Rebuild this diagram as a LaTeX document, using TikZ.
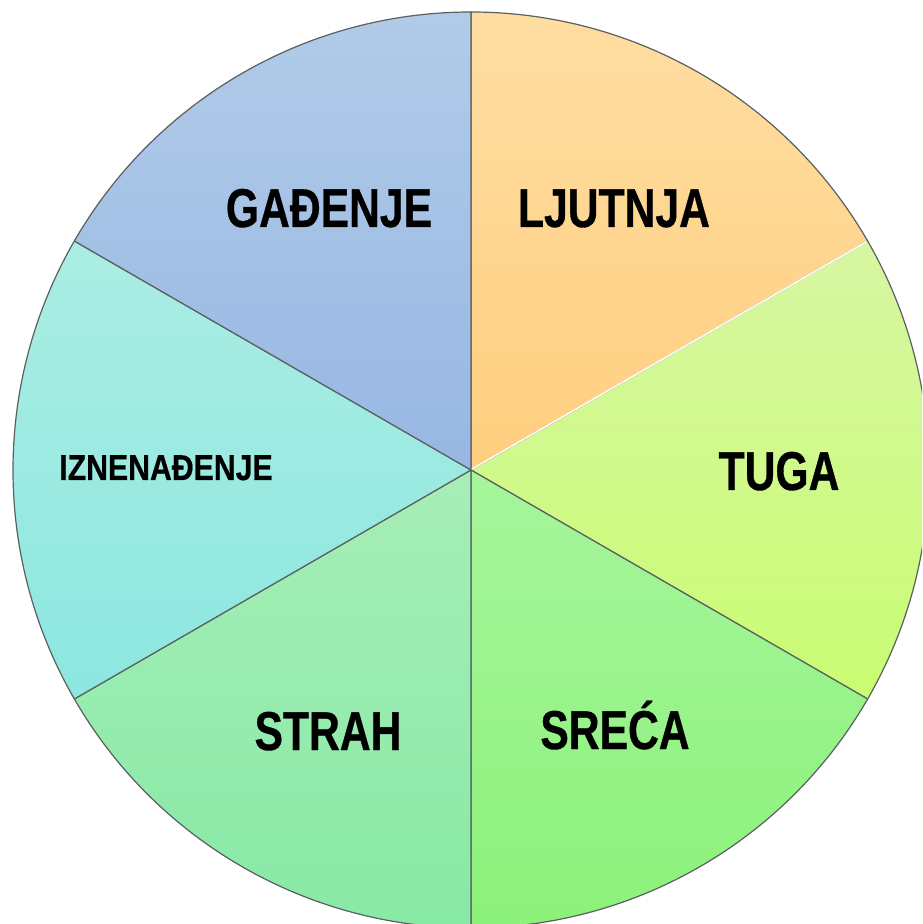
\documentclass[tikz,border=0pt]{standalone}
\usepackage{fontspec}
\setmainfont{Liberation Sans}
\newfontfamily\narrowA[FakeStretch=0.78,FakeBold=0.6]{Liberation Sans}
\newfontfamily\narrowB[FakeStretch=0.84,FakeBold=0.6]{Liberation Sans}
\definecolor{c1t}{HTML}{FEDDA2}\definecolor{c1b}{HTML}{FFCF7E}
\definecolor{c2t}{HTML}{D7F6A2}\definecolor{c2b}{HTML}{C9FC72}
\definecolor{c3t}{HTML}{A6F59C}\definecolor{c3b}{HTML}{8CF27A}
\definecolor{c4t}{HTML}{A6EEB6}\definecolor{c4b}{HTML}{88E9A6}
\definecolor{c5t}{HTML}{ABEDE3}\definecolor{c5b}{HTML}{8CE7E0}
\definecolor{c6t}{HTML}{B1CBE8}\definecolor{c6b}{HTML}{97B7E3}
\definecolor{edge}{HTML}{5A5F5F}
\tikzset{
  sector/.style={draw=edge, line width=0.9pt, line join=round},
  lbl/.style={anchor=base, inner sep=0pt, text=black, font=\narrowA\bfseries\fontsize{41}{41}\selectfont},
  lblsmall/.style={anchor=base, inner sep=0pt, text=black, font=\narrowB\bfseries\fontsize{27}{27}\selectfont}
}
\begin{document}
\begin{tikzpicture}[x=0.75pt,y=0.75pt]
\def\R{458}
\useasboundingbox (-471,-454) rectangle (451,470);
\clip (-471,-454) rectangle (451,470);
% LJUTNJA 30..90
\path[sector, top color=c1t, bottom color=c1b] (0,0) -- (30:\R) arc[start angle=30, end angle=90, radius=\R] -- cycle;
% TUGA -30..30
\path[sector, top color=c2t, bottom color=c2b] (0,0) -- (-30:\R) arc[start angle=-30, end angle=30, radius=\R] -- cycle;
% SRECA -90..-30
\path[sector, top color=c3t, bottom color=c3b] (0,0) -- (-90:\R) arc[start angle=-90, end angle=-30, radius=\R] -- cycle;
% STRAH -150..-90
\path[sector, top color=c4t, bottom color=c4b] (0,0) -- (-150:\R) arc[start angle=-150, end angle=-90, radius=\R] -- cycle;
% IZNENADJENJE 150..210
\path[sector, top color=c5t, bottom color=c5b] (0,0) -- (150:\R) arc[start angle=150, end angle=210, radius=\R] -- cycle;
% GADJENJE 90..150
\path[sector, top color=c6t, bottom color=c6b] (0,0) -- (90:\R) arc[start angle=90, end angle=150, radius=\R] -- cycle;
% white gap between LJUTNJA and TUGA
\draw[white, line width=1.2pt] (0.8,0.8) -- (30:\R-1);
\node[lbl] (gadjenje) at (-142,243) {GAĐENJE};
\node[lbl] (ljutnja) at (143,243) {LJUTNJA};
\node[lbl] (tuga) at (308,-20) {TUGA};
\node[lblsmall] (iznenadjenje) at (-305,-10) {IZNENAĐENJE};
\node[lbl] (strah) at (-143,-280) {STRAH};
\node[lbl] (sreca) at (144,-279) {SREĆA};
\end{tikzpicture}
\end{document}
